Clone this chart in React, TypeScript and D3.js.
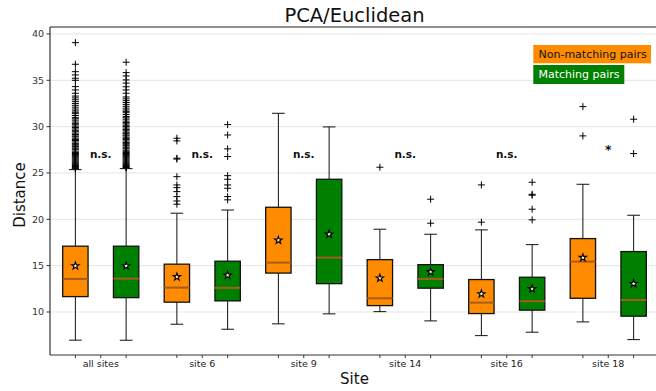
import React from "react";
import * as d3 from "d3";

const sites = ["all sites", "site 6", "site 9", "site 14", "site 16", "site 18"];
const significance = ["n.s.", "n.s.", "n.s.", "n.s.", "n.s.", "*"];
const yTicks = [10, 15, 20, 25, 30, 35, 40];

// Non-matching pairs (orange)
const nmLow = [6.96, 8.68, 8.72, 10.04, 7.45, 8.93];
const nmQ1 = [11.66, 11.06, 14.2, 10.69, 9.83, 11.48];
const nmMed = [13.57, 12.63, 15.33, 11.48, 11.01, 15.44];
const nmQ3 = [17.1, 15.16, 21.3, 15.65, 13.5, 17.92];
const nmHigh = [25.36, 20.66, 31.44, 18.93, 18.86, 23.78];
const nmMean = [14.97, 13.79, 17.74, 13.65, 11.95, 15.87];
const nmOutliers = [
  [25.45, 25.5, 25.6, 25.7, 25.8, 25.9, 26.0, 26.1, 26.2, 26.3, 26.4, 26.5, 26.6, 26.7, 26.8, 26.9, 27.0, 27.1, 27.2, 27.35, 27.5, 27.6, 27.7, 27.85, 28.0, 28.1, 28.2, 28.35, 28.5, 28.6, 28.75, 28.9, 29.0, 29.15, 29.3, 29.45, 29.6, 29.75, 29.9, 30.05, 30.2, 30.35, 30.5, 30.7, 30.85, 31.0, 31.2, 31.4, 31.55, 31.7, 31.9, 32.1, 32.3, 32.5, 32.7, 32.9, 33.1, 33.3, 33.6, 33.96, 34.32, 35.0, 35.22, 35.58, 35.93, 36.73, 39.06],
  [28.75, 28.46, 26.59, 26.5, 24.6, 23.71, 23.42, 22.99, 22.45, 21.98, 21.63],
  [],
  [25.62],
  [23.71, 19.69],
  [32.16, 29.0],
];

// Matching pairs (green)
const mLow = [6.95, 8.14, 9.8, 9.04, 7.82, 7.02];
const mQ1 = [11.55, 11.2, 13.06, 12.57, 10.2, 9.55];
const mMed = [13.6, 12.6, 15.87, 13.57, 11.16, 11.3];
const mQ3 = [17.1, 15.48, 24.32, 15.11, 13.75, 16.52];
const mHigh = [25.47, 21.0, 29.97, 18.39, 17.27, 20.44];
const mMean = [14.97, 13.97, 18.39, 14.33, 12.5, 13.06];
const mOutliers = [
  [25.55, 25.6, 25.7, 25.8, 25.9, 26.0, 26.1, 26.2, 26.3, 26.4, 26.5, 26.6, 26.7, 26.8, 26.9, 27.0, 27.1, 27.2, 27.3, 27.45, 27.6, 27.7, 27.8, 27.95, 28.1, 28.2, 28.3, 28.45, 28.6, 28.7, 28.85, 29.0, 29.1, 29.25, 29.4, 29.55, 29.7, 29.85, 30.0, 30.15, 30.3, 30.45, 30.6, 30.8, 30.95, 31.1, 31.3, 31.5, 31.65, 31.8, 32.0, 32.2, 32.4, 32.6, 32.8, 33.0, 33.2, 33.6, 33.96, 34.3, 34.7, 35.04, 35.47, 35.83, 36.95],
  [30.22, 29.1, 27.6, 26.77, 24.71, 24.32, 23.71, 23.35, 22.45, 22.1],
  [],
  [22.17, 19.58],
  [24.0, 22.7, 22.6, 21.09, 19.94],
  [30.8, 27.09],
];

const ORANGE = "#ff8c00";
const GREEN = "#008000";
const MEDIAN = "#a35c1c";
const FONT = "DejaVu Sans, Verdana, sans-serif";

const W = 656;
const H = 391;
const left = 50;
const right = 659;
const top = 27;
const bottom = 355;

export default function App() {
  const x = d3.scaleLinear().domain([0.5, 12.5]).range([left, right]);
  const y = d3.scaleLinear().domain([5.36, 40.75]).range([bottom, top]);
  const boxW = x(0.5) - x(0);
  const capW = boxW / 2;
  const star = d3.symbol().type(d3.symbolStar).size(17)();

  const series = [
    { color: ORANGE, low: nmLow, q1: nmQ1, med: nmMed, q3: nmQ3, high: nmHigh, mean: nmMean, out: nmOutliers, offset: 0 },
    { color: GREEN, low: mLow, q1: mQ1, med: mMed, q3: mQ3, high: mHigh, mean: mMean, out: mOutliers, offset: 1 },
  ];

  const tickPositions: number[] = [];
  sites.forEach((_, i) => {
    tickPositions.push(2 * i + 1, 2 * i + 1.5, 2 * i + 2);
  });

  return (
    <svg width={W} height={H} style={{ position: "absolute", left: 0, top: 0, background: "#fff" }} fontFamily={FONT}>
      <rect x={0} y={0} width={W} height={H} fill="#fff" />
      {/* grid */}
      {yTicks.map((t) => (
        <line key={"g" + t} x1={left} x2={W} y1={y(t)} y2={y(t)} stroke="#e5e5e5" strokeWidth={1} />
      ))}
      {/* boxes */}
      {series.map((s) =>
        sites.map((_, i) => {
          const cx = x(2 * i + 1 + s.offset);
          return (
            <g key={s.color + i}>
              <line x1={cx} x2={cx} y1={y(s.q3[i])} y2={y(s.high[i])} stroke="#111" strokeWidth={1} />
              <line x1={cx} x2={cx} y1={y(s.q1[i])} y2={y(s.low[i])} stroke="#111" strokeWidth={1} />
              <line x1={cx - capW / 2} x2={cx + capW / 2} y1={y(s.high[i])} y2={y(s.high[i])} stroke="#111" strokeWidth={1} />
              <line x1={cx - capW / 2} x2={cx + capW / 2} y1={y(s.low[i])} y2={y(s.low[i])} stroke="#111" strokeWidth={1} />
              <rect
                x={cx - boxW / 2}
                y={y(s.q3[i])}
                width={boxW}
                height={y(s.q1[i]) - y(s.q3[i])}
                fill={s.color}
                stroke="#111"
                strokeWidth={1.3}
              />
              <line x1={cx - boxW / 2} x2={cx + boxW / 2} y1={y(s.med[i])} y2={y(s.med[i])} stroke={MEDIAN} strokeWidth={2} />
              <path d={star} transform={`translate(${cx},${y(s.mean[i])})`} fill="#fff" stroke="#000" strokeWidth={1.1} />
              {s.out[i].map((v, k) => (
                <path
                  key={k}
                  d={`M${cx - 3.5},${y(v)}H${cx + 3.5}M${cx},${y(v) - 3.5}V${y(v) + 3.5}`}
                  stroke="#000"
                  strokeWidth={1}
                  fill="none"
                />
              ))}
            </g>
          );
        })
      )}
      {/* significance */}
      {sites.map((_, i) => (
        <text
          key={"sig" + i}
          x={x(2 * i + 1.5)}
          y={significance[i] === "*" ? y(27.05) : y(26.6)}
          textAnchor="middle"
          fontSize={significance[i] === "*" ? 12.5 : 10.5}
          fontWeight="bold"
          fill="#111"
        >
          {significance[i]}
        </text>
      ))}
      {/* spines */}
      <line x1={left} x2={left} y1={top} y2={bottom} stroke="#333" strokeWidth={1.2} />
      <line x1={left} x2={W} y1={bottom} y2={bottom} stroke="#333" strokeWidth={1.2} />
      <line x1={left} x2={W} y1={top} y2={top} stroke="#222" strokeWidth={1.2} />
      {/* y ticks */}
      {yTicks.map((t) => (
        <g key={"yt" + t}>
          <line x1={left - 3.5} x2={left} y1={y(t)} y2={y(t)} stroke="#333" strokeWidth={1} />
          <text x={left - 6} y={y(t) + 3.4} textAnchor="end" fontSize={9.5} fill="#333">
            {t}
          </text>
        </g>
      ))}
      {/* x ticks */}
      {tickPositions.map((p, k) => (
        <line key={"xt" + k} x1={x(p)} x2={x(p)} y1={bottom} y2={bottom + 3} stroke="#333" strokeWidth={1} />
      ))}
      {sites.map((s, i) => (
        <text key={"xl" + i} x={x(2 * i + 1.5)} y={367} textAnchor="middle" fontSize={9.5} fill="#222">
          {s}
        </text>
      ))}
      {/* labels */}
      <text x={(left + right) / 2} y={22} textAnchor="middle" fontSize={19.5} fill="#111">
        PCA/Euclidean
      </text>
      <text x={(left + right) / 2} y={384} textAnchor="middle" fontSize={15} fill="#111">
        Site
      </text>
      <text transform={`translate(25,${(top + bottom) / 2 + 4}) rotate(-90)`} textAnchor="middle" fontSize={15} fill="#111">
        Distance
      </text>
      {/* legend */}
      <rect x={533.3} y={45} width={117.7} height={18.3} fill={ORANGE} />
      <text x={538.5} y={58.3} fontSize={11} fill="#111">
        Non-matching pairs
      </text>
      <rect x={533.3} y={65} width={91} height={19} fill={GREEN} />
      <text x={538.5} y={77.5} fontSize={11} fill="#fff">
        Matching pairs
      </text>
    </svg>
  );
}
